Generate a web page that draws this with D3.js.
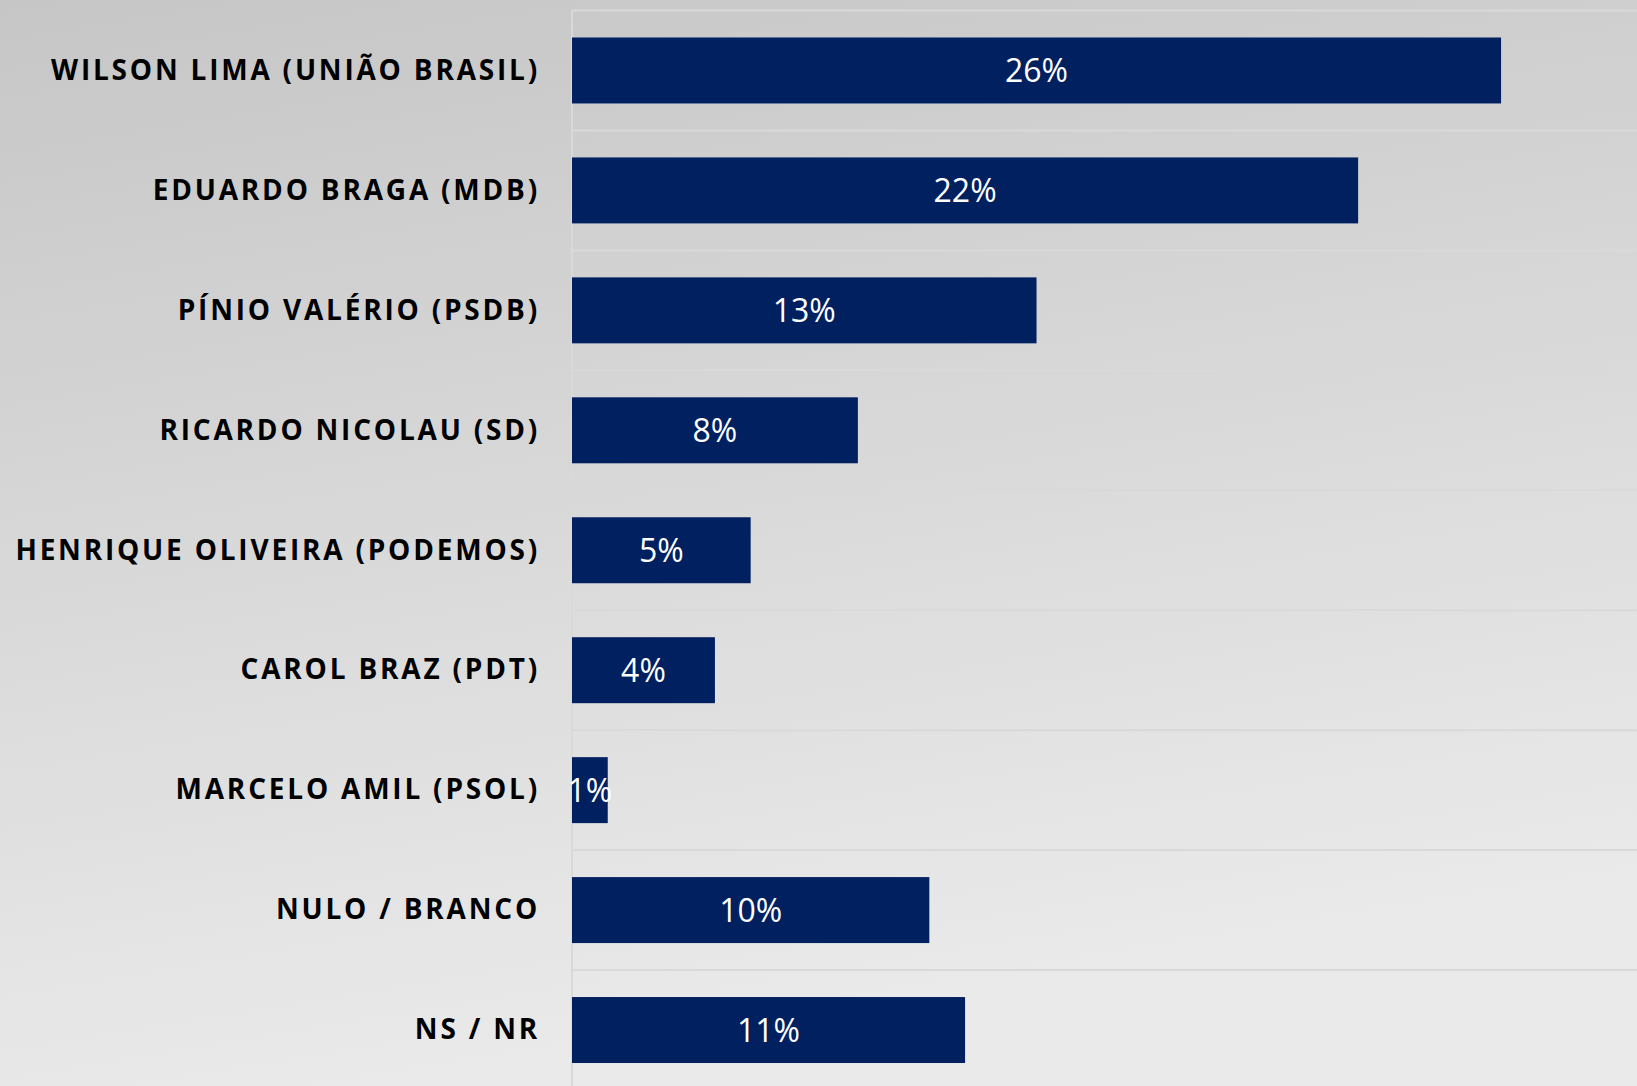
<!DOCTYPE html>
<html>
<head>
<meta charset="utf-8">
<script src="https://cdn.jsdelivr.net/npm/d3@7"></script>
<style>
  html, body { margin: 0; padding: 0; overflow: hidden; }
  svg { display: block; }
</style>
</head>
<body>
<svg id="chart"></svg>
<script>
// candidates, top to bottom
const candidates = [
    'WILSON LIMA (UNIÃO BRASIL)',
    'EDUARDO BRAGA (MDB)',
    'PÍNIO VALÉRIO (PSDB)',
    'RICARDO NICOLAU (SD)',
    'HENRIQUE OLIVEIRA (PODEMOS)',
    'CAROL BRAZ (PDT)',
    'MARCELO AMIL (PSOL)',
    'NULO / BRANCO',
    'NS / NR'
];
const percents = [26, 22, 13, 8, 5, 4, 1, 10, 11];

const width = 1637;
const height = 1086;
const margin = {
    top: 10.5,
    left: 572,
    right: -7,
    bottom: -4
};

const rows = candidates.map((c, i) => ({ name: c, value: percents[i] }));

const svg = d3.select('#chart')
    .attr('width', width)
    .attr('height', height);

// background
const defs = svg.append('defs');
const grad = defs.append('linearGradient')
    .attr('id', 'bg')
    .attr('x1', '0').attr('y1', '0')
    .attr('x2', '0.25').attr('y2', '1');
grad.append('stop').attr('offset', '0%').attr('stop-color', '#c6c6c6');
grad.append('stop').attr('offset', '100%').attr('stop-color', '#eaeaea');

svg.append('rect')
    .attr('width', width)
    .attr('height', height)
    .attr('fill', 'url(#bg)');

const x = d3.scaleLinear()
    .domain([0, 30])
    .range([margin.left, width + 7]);

const y = d3.scaleBand()
    .domain(candidates)
    .range([margin.top, height - margin.bottom])
    .padding(0);

const barH = y.bandwidth() * 0.55;

// gridlines at band edges
const edges = candidates.map(c => y(c)).concat([y(candidates[candidates.length - 1]) + y.bandwidth()]);
svg.append('g')
    .selectAll('line')
    .data(edges)
    .enter()
    .append('line')
    .attr('x1', x(0))
    .attr('x2', width)
    .attr('y1', d => d)
    .attr('y2', d => d)
    .attr('stroke', '#d9d9d9')
    .attr('stroke-width', 2);

// vertical axis line
svg.append('line')
    .attr('x1', x(0))
    .attr('x2', x(0))
    .attr('y1', margin.top)
    .attr('y2', height)
    .attr('stroke', '#d9d9d9')
    .attr('stroke-width', 2);

// category labels
const yAxis = d3.axisLeft(y).tickSize(0).tickPadding(32);
const ax = svg.append('g')
    .attr('transform', `translate(${x(0)}, 0)`)
    .call(yAxis);
ax.select('.domain').remove();
ax.selectAll('text')
    .attr('fill', '#000')
    .attr('font-family', '"Open Sans", sans-serif')
    .attr('font-weight', 700)
    .attr('font-size', 28)
    .attr('letter-spacing', 2.8)
    .attr('dy', '0.33em');

// bars
const bars = svg.append('g')
    .selectAll('g')
    .data(rows)
    .enter()
    .append('g');

bars.append('rect')
    .attr('x', x(0))
    .attr('y', d => y(d.name) + (y.bandwidth() - barH) / 2)
    .attr('width', d => x(d.value) - x(0))
    .attr('height', barH)
    .attr('fill', '#002060');

bars.append('text')
    .attr('x', d => (x(0) + x(d.value)) / 2)
    .attr('y', d => y(d.name) + y.bandwidth() / 2)
    .attr('dy', '0.36em')
    .attr('text-anchor', 'middle')
    .attr('fill', '#fff')
    .attr('font-family', '"Open Sans", sans-serif')
    .attr('font-size', 32)
    .text(d => d.value + '%');
</script>
</body>
</html>
